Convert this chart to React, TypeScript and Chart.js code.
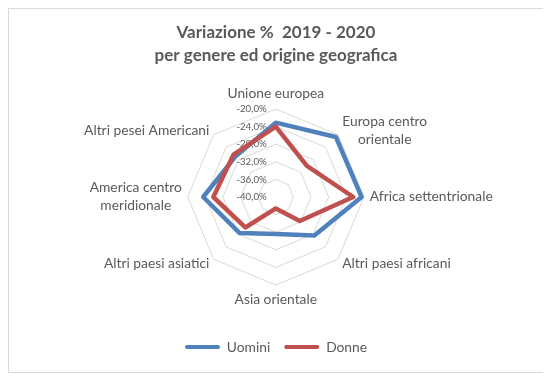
import { useEffect, useRef } from "react";
import { Chart, registerables } from "chart.js";
Chart.register(...registerables);

const CATEGORIES: string[][] = [
  ["Unione europea"],
  ["Europa centro", "orientale"],
  ["Africa settentrionale"],
  ["Altri paesi africani"],
  ["Asia orientale"],
  ["Altri paesi asiatici"],
  ["America centro", "meridionale"],
  ["Altri pesei Americani"],
];
const UOMINI = [-23.1, -20.7, -20.5, -27.6, -31.6, -28.4, -23.5, -27.0];
const DONNE = [-24.0, -30.0, -22.4, -32.3, -37.4, -30.2, -25.8, -26.4];
const SCALE_MIN = -40;
const SCALE_MAX = -20;
const SCALE_STEP = 4;
const TITLE = ["Variazione %  2019 - 2020", "per genere ed origine geografica"];

const FONT = "Lato, 'Open Sans', sans-serif";
const TEXT = "#595959";
const BLUE = "#4F81BD";
const RED = "#C0504D";
const GRID = "#D9D9D9";

// geometry of the radar in canvas coordinates
const CX = 266.8;
const CY = 188;
const R = 88;

const fmt = (v: number) => v.toFixed(1).replace(".", ",") + "%";

const textPlugin = {
  id: "radarText",
  beforeDatasetsDraw(chart: any) {
    const s = chart.scales.r;
    const ctx = chart.ctx;
    ctx.save();
    ctx.font = `9.7px ${FONT}`;
    ctx.fillStyle = TEXT;
    ctx.textAlign = "right";
    ctx.textBaseline = "middle";
    s.ticks.forEach((t: any) => {
      const y = s.yCenter - s.getDistanceFromCenterForValue(t.value);
      ctx.fillText(fmt(t.value), s.xCenter - 9, y);
    });
    ctx.restore();
  },
  afterDraw(chart: any) {
    const s = chart.scales.r;
    const ctx = chart.ctx;
    const labels = chart.data.labels as string[][];
    ctx.save();
    ctx.font = `13.8px ${FONT}`;
    ctx.fillStyle = TEXT;
    ctx.textAlign = "center";
    ctx.textBaseline = "middle";
    const lh = 18;
    labels.forEach((lbl, i) => {
      const lines = Array.isArray(lbl) ? lbl : [lbl];
      const p = s.getPointPosition(i, s.drawingArea + 6);
      const dx = p.x - s.xCenter;
      const dy = p.y - s.yCenter;
      const w = Math.max(...lines.map((l) => ctx.measureText(l).width));
      const h = lines.length * lh;
      let left: number;
      if (dx > 1) left = p.x;
      else if (dx < -1) left = p.x - w;
      else left = p.x - w / 2;
      let top: number;
      if (Math.abs(dx) <= 1) top = dy < 0 ? p.y - h : p.y;
      else top = p.y - h / 2;
      lines.forEach((l, k) => {
        ctx.fillText(l, left + w / 2, top + lh * (k + 0.5));
      });
    });
    ctx.restore();
  },
};

export default function App() {
  const ref = useRef<HTMLCanvasElement>(null);
  useEffect(() => {
    if (!ref.current) return;
    const chart = new Chart(ref.current, {
      type: "radar",
      data: {
        labels: CATEGORIES,
        datasets: [
          {
            label: "Uomini",
            data: UOMINI,
            borderColor: BLUE,
            backgroundColor: BLUE,
            borderWidth: 4.5,
            borderJoinStyle: "round",
            fill: false,
            pointRadius: 0,
            order: 1,
          },
          {
            label: "Donne",
            data: DONNE,
            borderColor: RED,
            backgroundColor: RED,
            borderWidth: 4.5,
            borderJoinStyle: "round",
            fill: false,
            pointRadius: 0,
            order: 0,
          },
        ],
      },
      options: {
        responsive: false,
        animation: false,
        layout: { padding: { top: 0, right: 3, bottom: 8, left: 0 } },
        scales: {
          r: {
            min: SCALE_MIN,
            max: SCALE_MAX,
            ticks: { stepSize: SCALE_STEP, display: false },
            grid: { color: GRID, lineWidth: 1 },
            angleLines: { display: false },
            pointLabels: { display: false },
            afterSetDimensions: (scale: any) => {
              scale.xCenter = CX;
              scale.yCenter = CY;
              scale.drawingArea = R;
            },
          },
        },
        plugins: {
          title: {
            display: true,
            text: TITLE,
            color: TEXT,
            font: { family: FONT, size: 17, weight: "bold", lineHeight: 1.35 },
            padding: { top: 12, bottom: 8 },
          },
          legend: {
            position: "bottom",
            labels: {
              boxWidth: 35,
              boxHeight: 4,
              color: TEXT,
              font: { family: FONT, size: 13.8 },
              padding: 14,
              sort: (a: any, b: any) => a.datasetIndex - b.datasetIndex,
              generateLabels: (c: any) => {
                const items = Chart.defaults.plugins.legend.labels.generateLabels(c);
                items.forEach((it: any) => {
                  it.fillStyle = it.strokeStyle;
                  it.lineWidth = 0;
                  it.borderRadius = 2;
                });
                return items;
              },
              useBorderRadius: true,
              borderRadius: 2,
            },
          },
          tooltip: { enabled: false },
        },
      },
      plugins: [textPlugin],
    } as any);
    return () => chart.destroy();
  }, []);
  return (
    <div
      style={{
        width: 539,
        height: 365,
        boxSizing: "border-box",
        border: "1px solid #D9D9D9",
        background: "#fff",
      }}
    >
      <canvas ref={ref} width={537} height={363} style={{ display: "block" }} />
    </div>
  );
}
